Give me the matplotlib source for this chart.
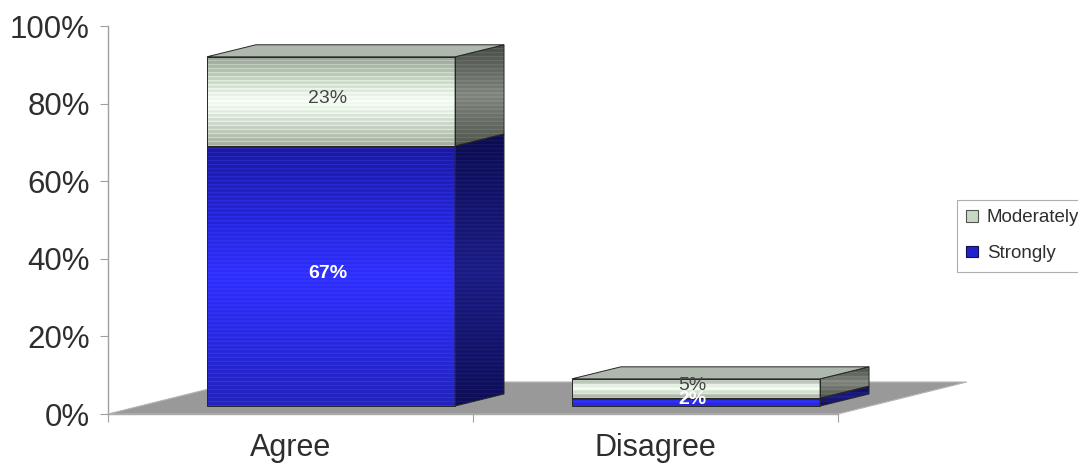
import numpy as np
import matplotlib
matplotlib.use('Agg')
import matplotlib.pyplot as plt
from matplotlib.patches import Polygon, Patch
from matplotlib.colors import to_rgb

categories = ['Agree', 'Disagree']
strongly = [67, 2]
moderately = [23, 5]
series_names = ['Moderately', 'Strongly']
yticks = [0, 20, 40, 60, 80, 100]
ytick_labels = ['0%', '20%', '40%', '60%', '80%', '100%']

# depth effect, in data units
BAR_W = 0.68
BAR_SHIFT = 0.111
BASE = 2.06
DX, DY = 0.134, 3.1
FLOOR_DX, FLOOR_DY = 0.353, 8.25

# (top, middle, bottom) shades for each face
STRONG_FRONT = ('#1a1a9c', '#2e2eff', '#2222bc')
STRONG_SIDE = ('#0c0c4e', '#1b1b82', '#0d0d58')
MOD_FRONT = ('#97a395', '#f2fff0', '#a3ae9f')
MOD_SIDE = ('#474c46', '#7e847c', '#50554e')
TOP_FACE = '#aeb8ac'
EDGE = '#262626'

plt.rcParams['font.family'] = ['Liberation Sans', 'DejaVu Sans']

fig = plt.figure(figsize=(10.78, 4.66), dpi=100)
ax = fig.add_axes([108 / 1078, 52 / 466, 730 / 1078, 388 / 466])
ax.set_xlim(-0.5, len(categories) - 0.5)
ax.set_ylim(0, 100)
ax.set_autoscale_on(False)

px_per_unit = ax.transData.transform((0, 1))[1] - ax.transData.transform((0, 0))[1]


def shade(colors, height):
    top, mid, bot = (np.array(to_rgb(c)) for c in colors)
    n = max(6, int(height * px_per_unit))
    t = np.linspace(0, 1, n)[:, None]
    lower = bot * (1 - 2 * t) + mid * (2 * t)
    upper = mid * (2 - 2 * t) + top * (2 * t - 1)
    col = np.where(t < 0.5, lower, upper)
    # faint horizontal banding
    band = (np.arange(n) % 4 == 0)[:, None]
    col = np.where(band, np.clip(col * 1.12 + 0.03, 0, 1), col)
    return col[:, None, :]


def face(verts, colors, height, z):
    xs = [v[0] for v in verts]
    ys = [v[1] for v in verts]
    poly = Polygon(verts, closed=True, facecolor='none', edgecolor=EDGE,
                   lw=0.7, clip_on=False, zorder=z + 0.1)
    im = ax.imshow(shade(colors, height), extent=(min(xs), max(xs), min(ys), max(ys)),
                   origin='lower', aspect='auto', interpolation='bilinear', zorder=z)
    ax.add_patch(poly)
    im.set_clip_path(poly)
    im.set_clip_box(fig.bbox)


# floor
n = len(categories)
floor = Polygon([(-0.5, 0), (n - 0.5, 0), (n - 0.5 + FLOOR_DX, FLOOR_DY),
                 (-0.5 + FLOOR_DX, FLOOR_DY)], closed=True, facecolor='#999999',
                edgecolor='#b5b5b5', lw=0.8, clip_on=False, zorder=1)
ax.add_patch(floor)

for i, cat in enumerate(categories):
    xl = i + BAR_SHIFT - BAR_W / 2
    xr = i + BAR_SHIFT + BAR_W / 2
    bottom = BASE
    z = 2 + i
    for vals, front, side, txt_kw in [
        (strongly, STRONG_FRONT, STRONG_SIDE, dict(color='white', fontweight='bold')),
        (moderately, MOD_FRONT, MOD_SIDE, dict(color='#454545')),
    ]:
        v = vals[i]
        top = bottom + v
        face([(xl, bottom), (xr, bottom), (xr, top), (xl, top)], front, v, z)
        face([(xr, bottom), (xr + DX, bottom + DY), (xr + DX, top + DY), (xr, top)],
             side, v + DY, z)
        ax.text(i + BAR_SHIFT - 0.01, bottom + v / 2 + 0.7, f'{v}%', ha='center',
                va='center', fontsize=14, zorder=z + 0.5, **txt_kw)
        bottom = top
    ax.add_patch(Polygon([(xl, bottom), (xr, bottom), (xr + DX, bottom + DY),
                          (xl + DX, bottom + DY)], closed=True, facecolor=TOP_FACE,
                         edgecolor=EDGE, lw=0.7, clip_on=False, zorder=z + 0.2))

# axes
for s in ['top', 'right']:
    ax.spines[s].set_visible(False)
for s in ['left', 'bottom']:
    ax.spines[s].set_color('#a0a0a0')
    ax.spines[s].set_linewidth(1.0)
    ax.spines[s].set_zorder(0.5)

ax.set_yticks(yticks)
ax.set_yticklabels(ytick_labels)
ax.tick_params(axis='y', length=6, color='#a0a0a0', labelcolor='#2e2e2e',
               labelsize=22.5, pad=7)

ax.set_xticks(np.arange(n + 1) - 0.5)
ax.set_xticklabels([])
ax.set_xticks(np.arange(n), minor=True)
ax.set_xticklabels(categories, minor=True)
ax.tick_params(axis='x', which='major', length=6, color='#a0a0a0')
ax.tick_params(axis='x', which='minor', length=0, labelcolor='#2e2e2e',
               labelsize=22, pad=14)

handles = [Patch(facecolor='#c9d8c5', edgecolor='#505550', lw=0.8),
           Patch(facecolor='#2222cc', edgecolor='#101050', lw=0.8)]
leg = fig.legend(handles, series_names, loc='upper left',
                 bbox_to_anchor=(957 / 1078, 1 - 200 / 466), bbox_transform=fig.transFigure,
                 fontsize=13.5, frameon=True, fancybox=False, borderaxespad=0,
                 handlelength=0.6, handleheight=0.6, handletextpad=0.5,
                 labelspacing=1.0, borderpad=0.5)
leg.get_frame().set_edgecolor('#9a9a9a')
leg.get_frame().set_linewidth(0.8)
for t in leg.get_texts():
    t.set_color('#2e2e2e')

fig.savefig('out.png', dpi=100)
